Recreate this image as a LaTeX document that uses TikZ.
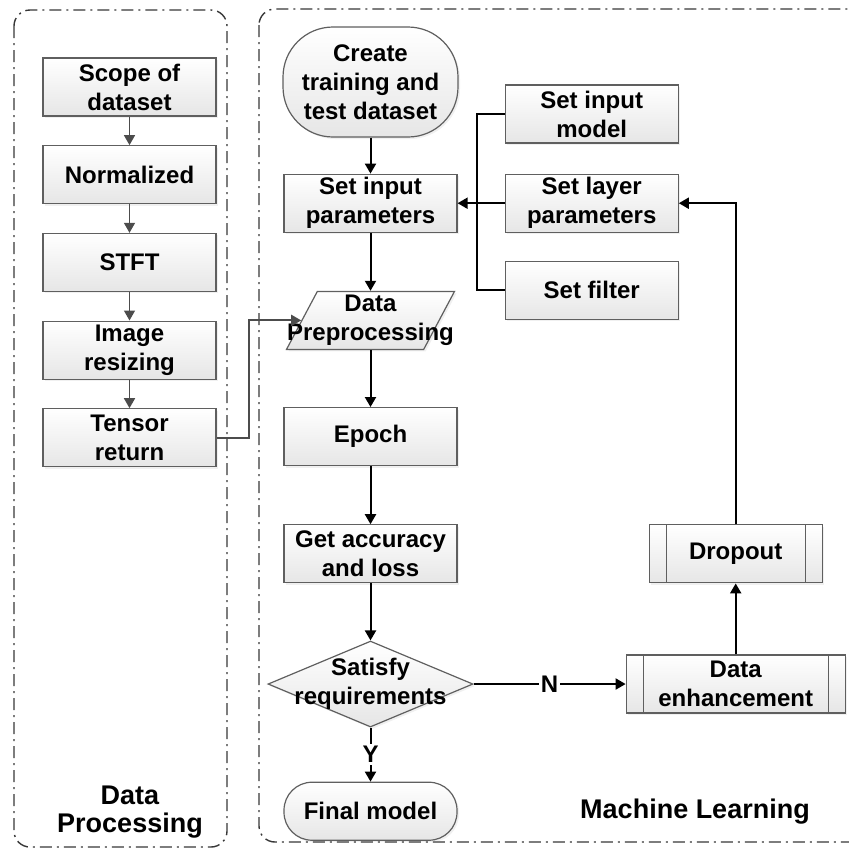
\documentclass[tikz,border=0pt]{standalone}
\usepackage{fontspec}
\setmainfont{Liberation Sans}
\usetikzlibrary{positioning,arrows.meta,shapes.geometric,shadows}
\definecolor{flowedge}{RGB}{95,95,95}
\definecolor{flowfill}{RGB}{230,230,230}
\definecolor{panelline}{RGB}{55,55,55}
% text that may run past the outline of its shape
\newcommand{\squeezed}[1]{\smash{\makebox[0pt]{\raisebox{-3pt}{\begin{tabular}{@{}c@{}}#1\end{tabular}}}}}

\begin{document}
\begin{tikzpicture}[
  x=0.5pt, y=-0.5pt,
  font=\bfseries\fontsize{12}{14.5}\selectfont,
  box/.style={draw=flowedge, line width=0.6pt, top color=white, bottom color=flowfill,
              align=center, inner sep=0pt, minimum width=86.5pt, minimum height=29pt,
              drop shadow={opacity=0.12, shadow xshift=1pt, shadow yshift=-1pt}},
  start/.style={box, minimum width=87.5pt, minimum height=55pt, rounded corners=25pt},
  terminal/.style={box, rounded corners=14pt},
  io/.style={box, trapezium, trapezium left angle=62, trapezium right angle=118,
             trapezium stretches body, minimum width=84pt},
  decision/.style={box, diamond, aspect=2.38, minimum width=102.5pt, minimum height=43pt},
  process/.style={box, path picture={
      \draw[flowedge, line width=0.6pt]
        ([xshift=8.5pt]path picture bounding box.north west) -- ([xshift=8.5pt]path picture bounding box.south west)
        ([xshift=-8.5pt]path picture bounding box.north east) -- ([xshift=-8.5pt]path picture bounding box.south east);}},
  line/.style={-{Triangle[length=5pt,width=5.5pt]}, line width=1pt, draw=black},
  thin/.style={-{Triangle[length=5pt,width=5.5pt]}, line width=0.75pt, draw=black!70},
  panel/.style={draw=panelline, line width=0.7pt, rounded corners=8pt,
                dash pattern=on 6pt off 2.5pt on 1pt off 2.5pt},
  tag/.style={fill=white, inner sep=1pt},
  title/.style={align=center, font=\bfseries\fontsize{13.5}{14}\selectfont},
]
\useasboundingbox (0,0) rectangle (849,848);

% the two regions
\draw[panel] (14,10) rectangle (227,847);
\draw[panel] (259,9) rectangle (875,842);
\node[title] (dplabel) at (130,812) {Data\\Processing};
\node[title] (mllabel) at (695,812) {Machine Learning};

% data processing
\node[box] (scope) at (129.5,87) {Scope of\\dataset};
\node[box, below=14.25pt of scope] (norm) {Normalized};
\node[box, below=14.25pt of norm] (stft) {STFT};
\node[box, below=14.25pt of stft] (resize) {Image\\resizing};
\node[box, below=14.25pt of resize] (tensor) {Tensor\\return};

% machine learning
\node[start] (create) at (370.5,82) {Create\\training and\\test dataset};
\node[box, below=18pt of create] (sip) {Set input\\parameters};
\node[io, below=29pt of sip] (prep) {\squeezed{Data\\Preprocessing}\rule[-14.5pt]{0pt}{29pt}};
\node[box, below=28.5pt of prep] (epoch) {Epoch};
\node[box, below=29pt of epoch] (acc) {Get accuracy\\and loss};
\node[decision, below=28.5pt of acc] (sat) {\squeezed{Satisfy\\requirements}};
\node[terminal, below=27pt of sat] (final) {Final model};

\node[box, right=23.5pt of sip] (layer) {Set layer\\parameters};
\node[box, above=15pt of layer] (model) {Set input\\model};
\node[box, below=14pt of layer] (filter) {Set filter};
\node[process, right=76pt of sat, minimum width=109.5pt] (enh) {Data\\enhancement};
\node[process, above=35.5pt of enh] (drop) {Dropout};

\coordinate[right=9.5pt of sip.east] (bus);
\coordinate[right=16pt of tensor.east] (jog);

\foreach \a/\b in {scope/norm, norm/stft, stft/resize, resize/tensor}
  \draw[thin] (\a) -- (\b);
\draw[thin, line width=1pt] (tensor.east) -- (jog) |- (prep.west);

\foreach \a/\b in {create/sip, sip/prep, prep/epoch, epoch/acc, acc/sat}
  \draw[line] (\a) -- (\b);
\draw[line] (sat) -- node[tag] {Y} (final);
\draw[line] (sat) -- node[tag] {N} (enh);
\draw[line] (enh) -- (drop);
\draw[line] (drop.north) |- (layer.east);
\draw[line] (layer) -- (sip);
\draw[line width=1pt] (model.west) -| (bus) |- (filter.west);
\end{tikzpicture}
\end{document}
